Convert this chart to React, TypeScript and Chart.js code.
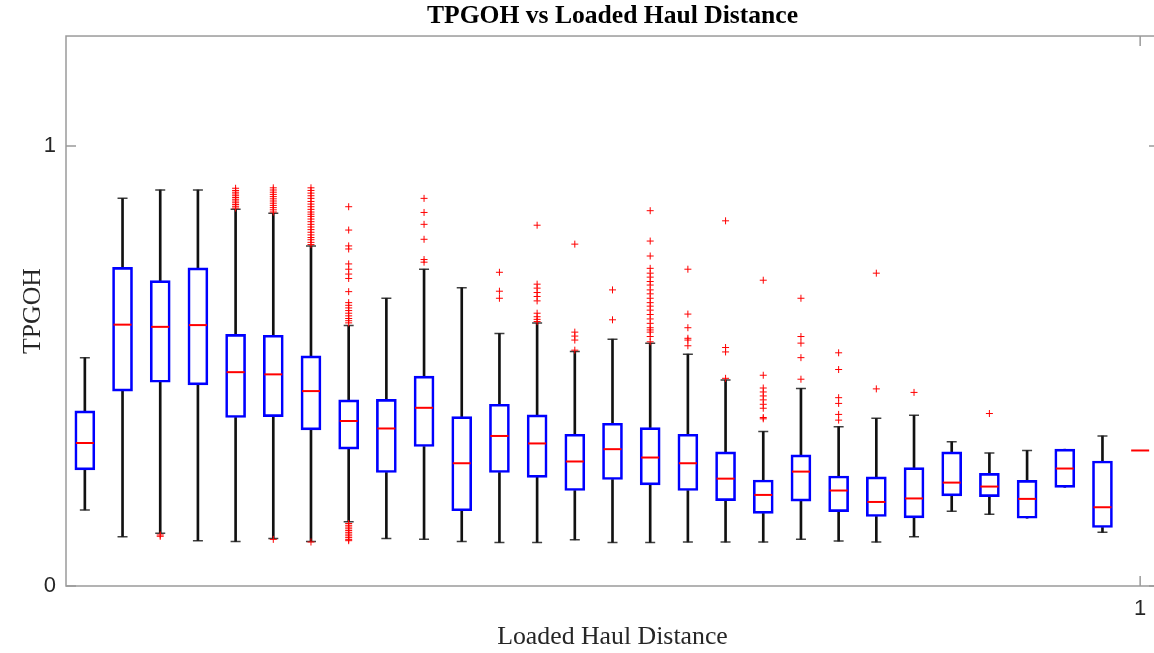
import React, { useEffect, useRef } from 'react';
import { Chart, registerables } from 'chart.js';

Chart.register(...registerables);

// ---------- data ----------
const categories = [
  '1', '2', '3', '4', '5', '6', '7', '8', '9', '10',
  '11', '12', '13', '14', '15', '16', '17', '18', '19', '20',
  '21', '22', '23', '24', '25', '26', '27', '28', '29',
];

const whiskerLow = [
  0.173, 0.112, 0.120, 0.103, 0.101, 0.108, 0.101, 0.146, 0.108, 0.106,
  0.101, 0.099, 0.099, 0.105, 0.099, 0.099, 0.100, 0.100, 0.100, 0.106,
  0.102, 0.100, 0.112, 0.170, 0.163, 0.154, 0.224, 0.122, 0.308,
];
const q1 = [
  0.264, 0.443, 0.463, 0.457, 0.383, 0.385, 0.355, 0.311, 0.258, 0.317,
  0.171, 0.258, 0.247, 0.217, 0.242, 0.230, 0.217, 0.194, 0.165, 0.193,
  0.169, 0.158, 0.155, 0.205, 0.203, 0.154, 0.224, 0.133, 0.308,
];
const medians = [
  0.325, 0.594, 0.589, 0.593, 0.486, 0.481, 0.443, 0.375, 0.358, 0.405,
  0.279, 0.341, 0.324, 0.283, 0.311, 0.292, 0.279, 0.244, 0.207, 0.260,
  0.217, 0.191, 0.199, 0.235, 0.226, 0.198, 0.267, 0.179, 0.308,
];
const q3 = [
  0.398, 0.724, 0.694, 0.723, 0.572, 0.570, 0.523, 0.423, 0.424, 0.477,
  0.385, 0.413, 0.389, 0.345, 0.370, 0.360, 0.345, 0.305, 0.241, 0.298,
  0.250, 0.248, 0.269, 0.305, 0.256, 0.240, 0.311, 0.284, 0.308,
];
const whiskerHigh = [
  0.519, 0.881, 0.900, 0.900, 0.856, 0.847, 0.773, 0.592, 0.654, 0.720,
  0.678, 0.574, 0.598, 0.533, 0.561, 0.552, 0.527, 0.468, 0.351, 0.449,
  0.362, 0.381, 0.388, 0.328, 0.302, 0.308, 0.311, 0.341, 0.308,
];

const outliers: number[][] = [
  [],
  [],
  [0.116, 0.113],
  [],
  [0.904, 0.899, 0.895, 0.891, 0.887, 0.883, 0.879, 0.875, 0.871, 0.867, 0.863, 0.859],
  [0.905, 0.900, 0.895, 0.890, 0.885, 0.880, 0.875, 0.870, 0.865, 0.860, 0.855, 0.850, 0.106],
  [0.905, 0.899, 0.893, 0.887, 0.881, 0.874, 0.868, 0.862, 0.856, 0.850, 0.845, 0.840,
    0.834, 0.828, 0.822, 0.816, 0.810, 0.804, 0.798, 0.792, 0.787, 0.781, 0.776, 0.100],
  [0.862, 0.809, 0.773, 0.766, 0.732, 0.720, 0.709, 0.699, 0.669, 0.644, 0.638, 0.632,
    0.626, 0.620, 0.614, 0.608, 0.603, 0.598,
    0.142, 0.138, 0.134, 0.130, 0.126, 0.122, 0.118, 0.114, 0.110, 0.106, 0.103],
  [],
  [0.881, 0.849, 0.822, 0.788, 0.742, 0.736],
  [],
  [0.713, 0.670, 0.654],
  [0.820, 0.686, 0.677, 0.667, 0.658, 0.648, 0.620, 0.612, 0.606, 0.601],
  [0.777, 0.577, 0.568, 0.559, 0.536],
  [0.673, 0.605],
  [0.853, 0.784, 0.750, 0.722, 0.711, 0.702, 0.692, 0.684, 0.673, 0.664, 0.654, 0.644,
    0.636, 0.627, 0.617, 0.607, 0.597, 0.587, 0.582, 0.577, 0.567, 0.555],
  [0.720, 0.618, 0.587, 0.563, 0.559, 0.546],
  [0.830, 0.542, 0.532, 0.472],
  [0.695, 0.479, 0.450, 0.441, 0.432, 0.423, 0.413, 0.404, 0.383, 0.380],
  [0.654, 0.567, 0.552, 0.519, 0.470],
  [0.530, 0.492, 0.428, 0.415, 0.390, 0.377],
  [0.711, 0.448],
  [0.440],
  [],
  [0.392],
  [],
  [],
  [],
  [],
];

const yTickValues = [0, 1];
const xTickCategories = ['29'];
const xTickLabels = ['1'];

const titleText = 'TPGOH vs Loaded Haul Distance';
const xTitle = 'Loaded Haul Distance';
const yTitle = 'TPGOH';

// ---------- styling ----------
const SERIF = "'Liberation Serif', 'Times New Roman', serif";
const SANS = "'Liberation Sans', Arial, Helvetica, sans-serif";
const FRAME = '#9a9a9a';
const TEXT = '#262626';
const CANVAS_W = 1170;
const CANVAS_H = 653;

const framePlugin = {
  id: 'matlabFrame',
  beforeDatasetsDraw(chart: any) {
    const { ctx, chartArea } = chart;
    const { left, right, top, bottom } = chartArea;
    const xs = chart.scales.x;
    const ys = chart.scales.y;
    ctx.save();
    ctx.strokeStyle = FRAME;
    ctx.lineWidth = 1.5;
    ctx.strokeRect(left, top, right - left, bottom - top);
    const len = 10;
    ctx.beginPath();
    ys.ticks.forEach((t: any) => {
      const py = ys.getPixelForValue(t.value);
      ctx.moveTo(left, py);
      ctx.lineTo(left + len, py);
      ctx.moveTo(right, py);
      ctx.lineTo(right - len, py);
    });
    xs.ticks.forEach((t: any) => {
      const px = xs.getPixelForValue(t.value);
      ctx.moveTo(px, bottom);
      ctx.lineTo(px, bottom - len);
      ctx.moveTo(px, top);
      ctx.lineTo(px, top + len);
    });
    ctx.stroke();
    ctx.restore();
  },
};

export default function App() {
  const ref = useRef<HTMLCanvasElement>(null);

  useEffect(() => {
    if (!ref.current) return;

    const boxData = categories.map((_, i) => [q1[i], q3[i]]);
    const lowWhisker = categories.map((_, i) => [whiskerLow[i], q1[i]]);
    const highWhisker = categories.map((_, i) => [q3[i], whiskerHigh[i]]);
    const caps: { x: string; y: number }[] = [];
    categories.forEach((c, i) => {
      if (whiskerLow[i] < q1[i]) caps.push({ x: c, y: whiskerLow[i] });
      if (whiskerHigh[i] > q3[i]) caps.push({ x: c, y: whiskerHigh[i] });
    });
    const medianPts = categories.map((c, i) => ({ x: c, y: medians[i] }));
    const outlierPts = categories.flatMap((c, i) => outliers[i].map((y) => ({ x: c, y })));

    const chart = new Chart(ref.current, {
      type: 'bar',
      data: {
        labels: categories,
        datasets: [
          {
            type: 'scatter',
            label: 'median',
            data: medianPts as any,
            pointStyle: 'line',
            pointRadius: 9,
            borderColor: '#ff0000',
            backgroundColor: '#ff0000',
            borderWidth: 2,
            order: 0,
          } as any,
          {
            type: 'scatter',
            label: 'outliers',
            data: outlierPts as any,
            pointStyle: 'cross',
            pointRadius: 3.5,
            borderColor: '#ff0000',
            backgroundColor: '#ff0000',
            borderWidth: 1,
            order: 1,
          } as any,
          {
            type: 'bar',
            label: 'box',
            data: boxData as any,
            backgroundColor: 'rgba(0,0,0,0)',
            borderColor: '#0000ff',
            borderWidth: 2,
            borderSkipped: false,
            barThickness: 20,
            grouped: false,
            order: 2,
          } as any,
          {
            type: 'scatter',
            label: 'caps',
            data: caps as any,
            pointStyle: 'line',
            pointRadius: 5,
            borderColor: 'rgba(30,30,30,0.85)',
            borderWidth: 1.5,
            order: 3,
          } as any,
          {
            type: 'bar',
            label: 'lowWhisker',
            data: lowWhisker as any,
            backgroundColor: '#111111',
            borderWidth: 0,
            barThickness: 2,
            grouped: false,
            order: 4,
          } as any,
          {
            type: 'bar',
            label: 'highWhisker',
            data: highWhisker as any,
            backgroundColor: '#111111',
            borderWidth: 0,
            barThickness: 2,
            grouped: false,
            order: 4,
          } as any,
        ],
      },
      options: {
        responsive: false,
        animation: false,
        events: [],
        layout: { padding: 0 },
        plugins: {
          legend: { display: false },
          tooltip: { enabled: false },
          title: {
            display: true,
            text: titleText,
            fullSize: false,
            color: '#000000',
            font: { family: SERIF, size: 25.6, weight: 'bold', lineHeight: 1.2 },
            padding: { top: 1.3, bottom: 4 },
          },
        },
        scales: {
          x: {
            type: 'category',
            offset: true,
            grid: { display: false, drawTicks: false },
            border: { display: false },
            ticks: {
              autoSkip: false,
              maxRotation: 0,
              padding: 10,
              color: TEXT,
              font: { family: SANS, size: 22 },
              callback: (_v: any, i: number) => xTickLabels[i],
            },
            afterBuildTicks: (s: any) => {
              s.ticks = xTickCategories.map((c) => ({ value: categories.indexOf(c) }));
            },
            afterFit: (s: any) => {
              s.height = 67;
              s.paddingLeft = 0;
              s.paddingRight = 0;
            },
            title: {
              display: true,
              text: xTitle,
              color: TEXT,
              font: { family: SERIF, size: 25.8, lineHeight: 1.2 },
              padding: { top: 0, bottom: 0 },
            },
          },
          y: {
            type: 'linear',
            min: 0,
            max: 1.25,
            grid: { display: false, drawTicks: false },
            border: { display: false },
            ticks: {
              padding: 10,
              color: TEXT,
              font: { family: SANS, size: 22 },
              callback: (v: any) => String(v),
            },
            afterBuildTicks: (s: any) => {
              s.ticks = yTickValues.map((v) => ({ value: v }));
            },
            afterFit: (s: any) => {
              s.width = 66;
            },
            title: {
              display: true,
              text: yTitle,
              color: TEXT,
              font: { family: SERIF, size: 25.8, lineHeight: 1.2 },
              padding: { top: 18, bottom: 0 },
            },
          },
        },
      } as any,
      plugins: [framePlugin],
    });

    return () => chart.destroy();
  }, []);

  return (
    <div
      style={{
        position: 'fixed',
        left: 0,
        top: 0,
        width: 1154,
        height: 653,
        overflow: 'hidden',
        background: '#ffffff',
      }}
    >
      <canvas
        ref={ref}
        width={CANVAS_W}
        height={CANVAS_H}
        style={{ display: 'block', width: CANVAS_W, height: CANVAS_H }}
      />
    </div>
  );
}
